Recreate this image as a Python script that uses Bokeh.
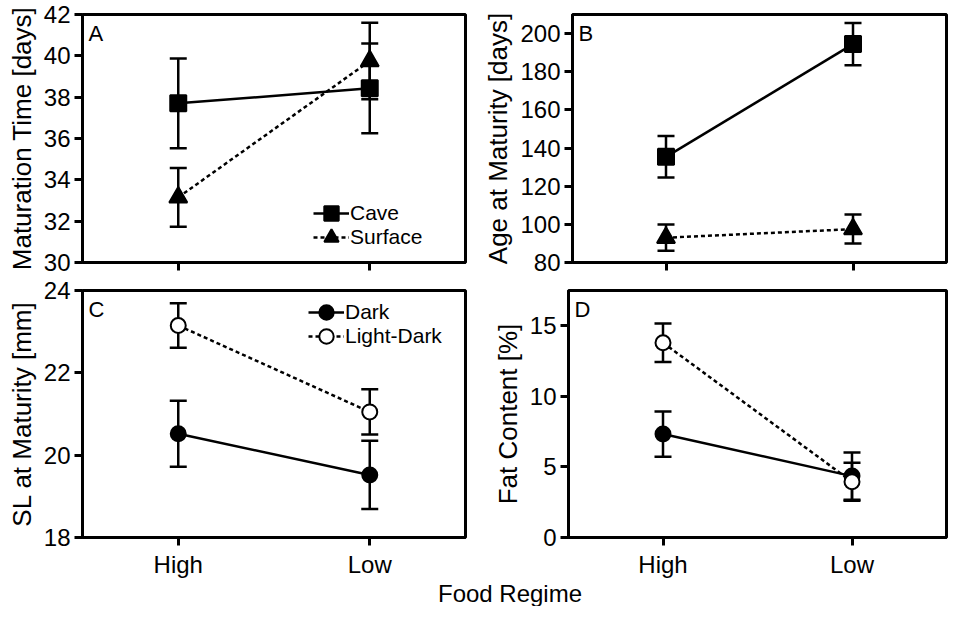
from bokeh.plotting import figure
from bokeh.models import (ColumnDataSource, Whisker, TeeHead, Range1d,
                          Legend, LegendItem, Label, FixedTicker)
from bokeh.layouts import column, row
from bokeh.embed import file_html
from bokeh.resources import INLINE

# ---------------- data ----------------
regimes = ["High", "Low"]

# Panel A: Maturation Time [days]
a_cave = [37.7, 38.43]
a_cave_err = [2.17, 2.17]
a_surface = [33.15, 39.75]
a_surface_err = [1.42, 1.85]
a_ticks = [30, 32, 34, 36, 38, 40, 42]

# Panel B: Age at Maturity [days]
b_cave = [135.4, 194.5]
b_cave_err = [10.9, 11.1]
b_surface = [93.0, 97.5]
b_surface_err = [6.9, 7.6]
b_ticks = [80, 100, 120, 140, 160, 180, 200]

# Panel C: SL at Maturity [mm]
c_dark = [20.52, 19.52]
c_dark_err = [0.80, 0.83]
c_ld = [23.15, 21.05]
c_ld_err = [0.54, 0.55]
c_ticks = [18, 20, 22, 24]

# Panel D: Fat Content [%]
d_dark = [7.33, 4.35]
d_dark_err = [1.60, 1.67]
d_ld = [13.8, 3.95]
d_ld_err = [1.36, 1.35]
d_ticks = [0, 5, 10, 15]

FONT = "Liberation Sans"
XPOS = [i + 0.5 for i in range(len(regimes))]   # category centres on a 0..N axis


def make_panel(width, height, ylim, yticks, ylabel, letter,
               bl, br, bt, bb, show_xlabels):
    p = figure(width=width, height=height,
               x_range=Range1d(0, len(regimes)), y_range=Range1d(*ylim),
               output_backend="svg", toolbar_location=None,
               min_border_left=bl, min_border_right=br,
               min_border_top=bt, min_border_bottom=bb)
    p.grid.visible = False
    p.outline_line_color = "black"
    p.outline_line_width = 3
    p.background_fill_color = "white"
    p.border_fill_color = "white"
    for ax in p.axis:
        ax.axis_line_width = 3
        ax.axis_line_color = "black"
        ax.major_tick_line_width = 3
        ax.major_tick_line_color = "black"
        ax.major_tick_out = 8
        ax.major_tick_in = 0
        ax.minor_tick_out = 0
        ax.minor_tick_in = 0
        ax.major_label_text_font = FONT
        ax.major_label_text_font_size = "24px"
        ax.major_label_text_color = "black"
        ax.axis_label_text_font = FONT
        ax.axis_label_text_font_size = "26px"
        ax.axis_label_text_font_style = "normal"
        ax.axis_label_text_color = "black"
    p.yaxis.ticker = FixedTicker(ticks=yticks)
    p.yaxis.major_label_standoff = 4
    p.yaxis.axis_label = ylabel
    p.yaxis.axis_label_standoff = 4
    p.xaxis.ticker = FixedTicker(ticks=XPOS)
    p.xaxis.major_label_standoff = 5
    if show_xlabels:
        p.xaxis.major_label_overrides = {x: r for x, r in zip(XPOS, regimes)}
    else:
        p.xaxis.major_label_overrides = {x: "" for x in XPOS}
        p.xaxis.major_label_text_font_size = "1px"
        p.xaxis.major_label_standoff = 0
    p.add_layout(Label(x=0, y=ylim[1], x_offset=6, y_offset=-6, text=letter,
                       text_baseline="top", text_align="left",
                       text_font=FONT, text_font_size="22px", text_color="black"))
    return p


def add_series(p, vals, errs, marker, size, fill, dash):
    src = ColumnDataSource(dict(
        x=XPOS, y=vals,
        upper=[v + e for v, e in zip(vals, errs)],
        lower=[v - e for v, e in zip(vals, errs)]))
    w = Whisker(base="x", upper="upper", lower="lower", source=src,
                line_width=2.5, line_color="black",
                upper_head=TeeHead(size=17, line_width=2.5, line_color="black"),
                lower_head=TeeHead(size=17, line_width=2.5, line_color="black"))
    p.add_layout(w)
    lr = p.line(x="x", y="y", source=src, line_width=2.5, line_color="black",
                line_dash=dash)
    sr = p.scatter(x="x", y="y", source=src, marker=marker, size=size,
                   fill_color=fill, line_color="black", line_width=2)
    return lr, sr


def add_legend_item(p, label, renderers, loc):
    lg = Legend(items=[LegendItem(label=label, renderers=renderers)],
                location=loc, padding=0, margin=0, spacing=0,
                glyph_width=36, glyph_height=38, label_standoff=1,
                label_text_font=FONT, label_text_font_size="21px",
                label_text_color="black",
                background_fill_alpha=0, border_line_color=None)
    p.add_layout(lg)


LW, RW = 480, 468
TH = 14 + 248 + 14          # top row figure height
BH = 14 + 249 + 41          # bottom row figure height
SH = 26                     # strip with the shared x-axis title

pa = make_panel(LW, TH, (30, 42), a_ticks, "Maturation Time [days]", "A",
                82, 15, 14, 14, False)
l1, s1 = add_series(pa, a_cave, a_cave_err, "square", 16, "black", "solid")
l2, s2 = add_series(pa, a_surface, a_surface_err, "triangle", 18, "black", "4 3")
add_legend_item(pa, "Cave", [l1, s1], (231, 30))
add_legend_item(pa, "Surface", [l2, s2], (231, 6))

pb = make_panel(RW, TH, (80, 210), b_ticks, "Age at Maturity [days]", "B",
                88, 2, 14, 14, False)
add_series(pb, b_cave, b_cave_err, "square", 16, "black", "solid")
add_series(pb, b_surface, b_surface_err, "triangle", 18, "black", "4 3")

pc = make_panel(LW, BH, (18, 24), c_ticks, "SL at Maturity [mm]", "C",
                82, 15, 14, 41, True)
l3, s3 = add_series(pc, c_dark, c_dark_err, "circle", 15, "black", "solid")
l4, s4 = add_series(pc, c_ld, c_ld_err, "circle", 15, "white", "4 3")
add_legend_item(pc, "Dark", [l3, s3], (226, 206))
add_legend_item(pc, "Light-Dark", [l4, s4], (226, 182))

pd = make_panel(RW, BH, (0, 17.5), d_ticks, "Fat Content [%]", "D",
                88, 2, 14, 41, True)
add_series(pd, d_dark, d_dark_err, "circle", 15, "black", "solid")
add_series(pd, d_ld, d_ld_err, "circle", 15, "white", "4 3")

strip = figure(width=LW + RW, height=SH, x_range=Range1d(0, 1), y_range=Range1d(0, 1),
               output_backend="svg", toolbar_location=None,
               x_axis_location=None, y_axis_location=None,
               min_border=0)
strip.grid.visible = False
strip.outline_line_color = None
strip.add_layout(Label(x=509.5 / (LW + RW), y=0.5, text="Food Regime",
                       text_align="center", text_baseline="middle",
                       text_font=FONT, text_font_size="24px", text_color="black"))

layout = column(row(pa, pb), row(pc, pd), strip)
open("out.html", "w").write(file_html(layout, INLINE))
